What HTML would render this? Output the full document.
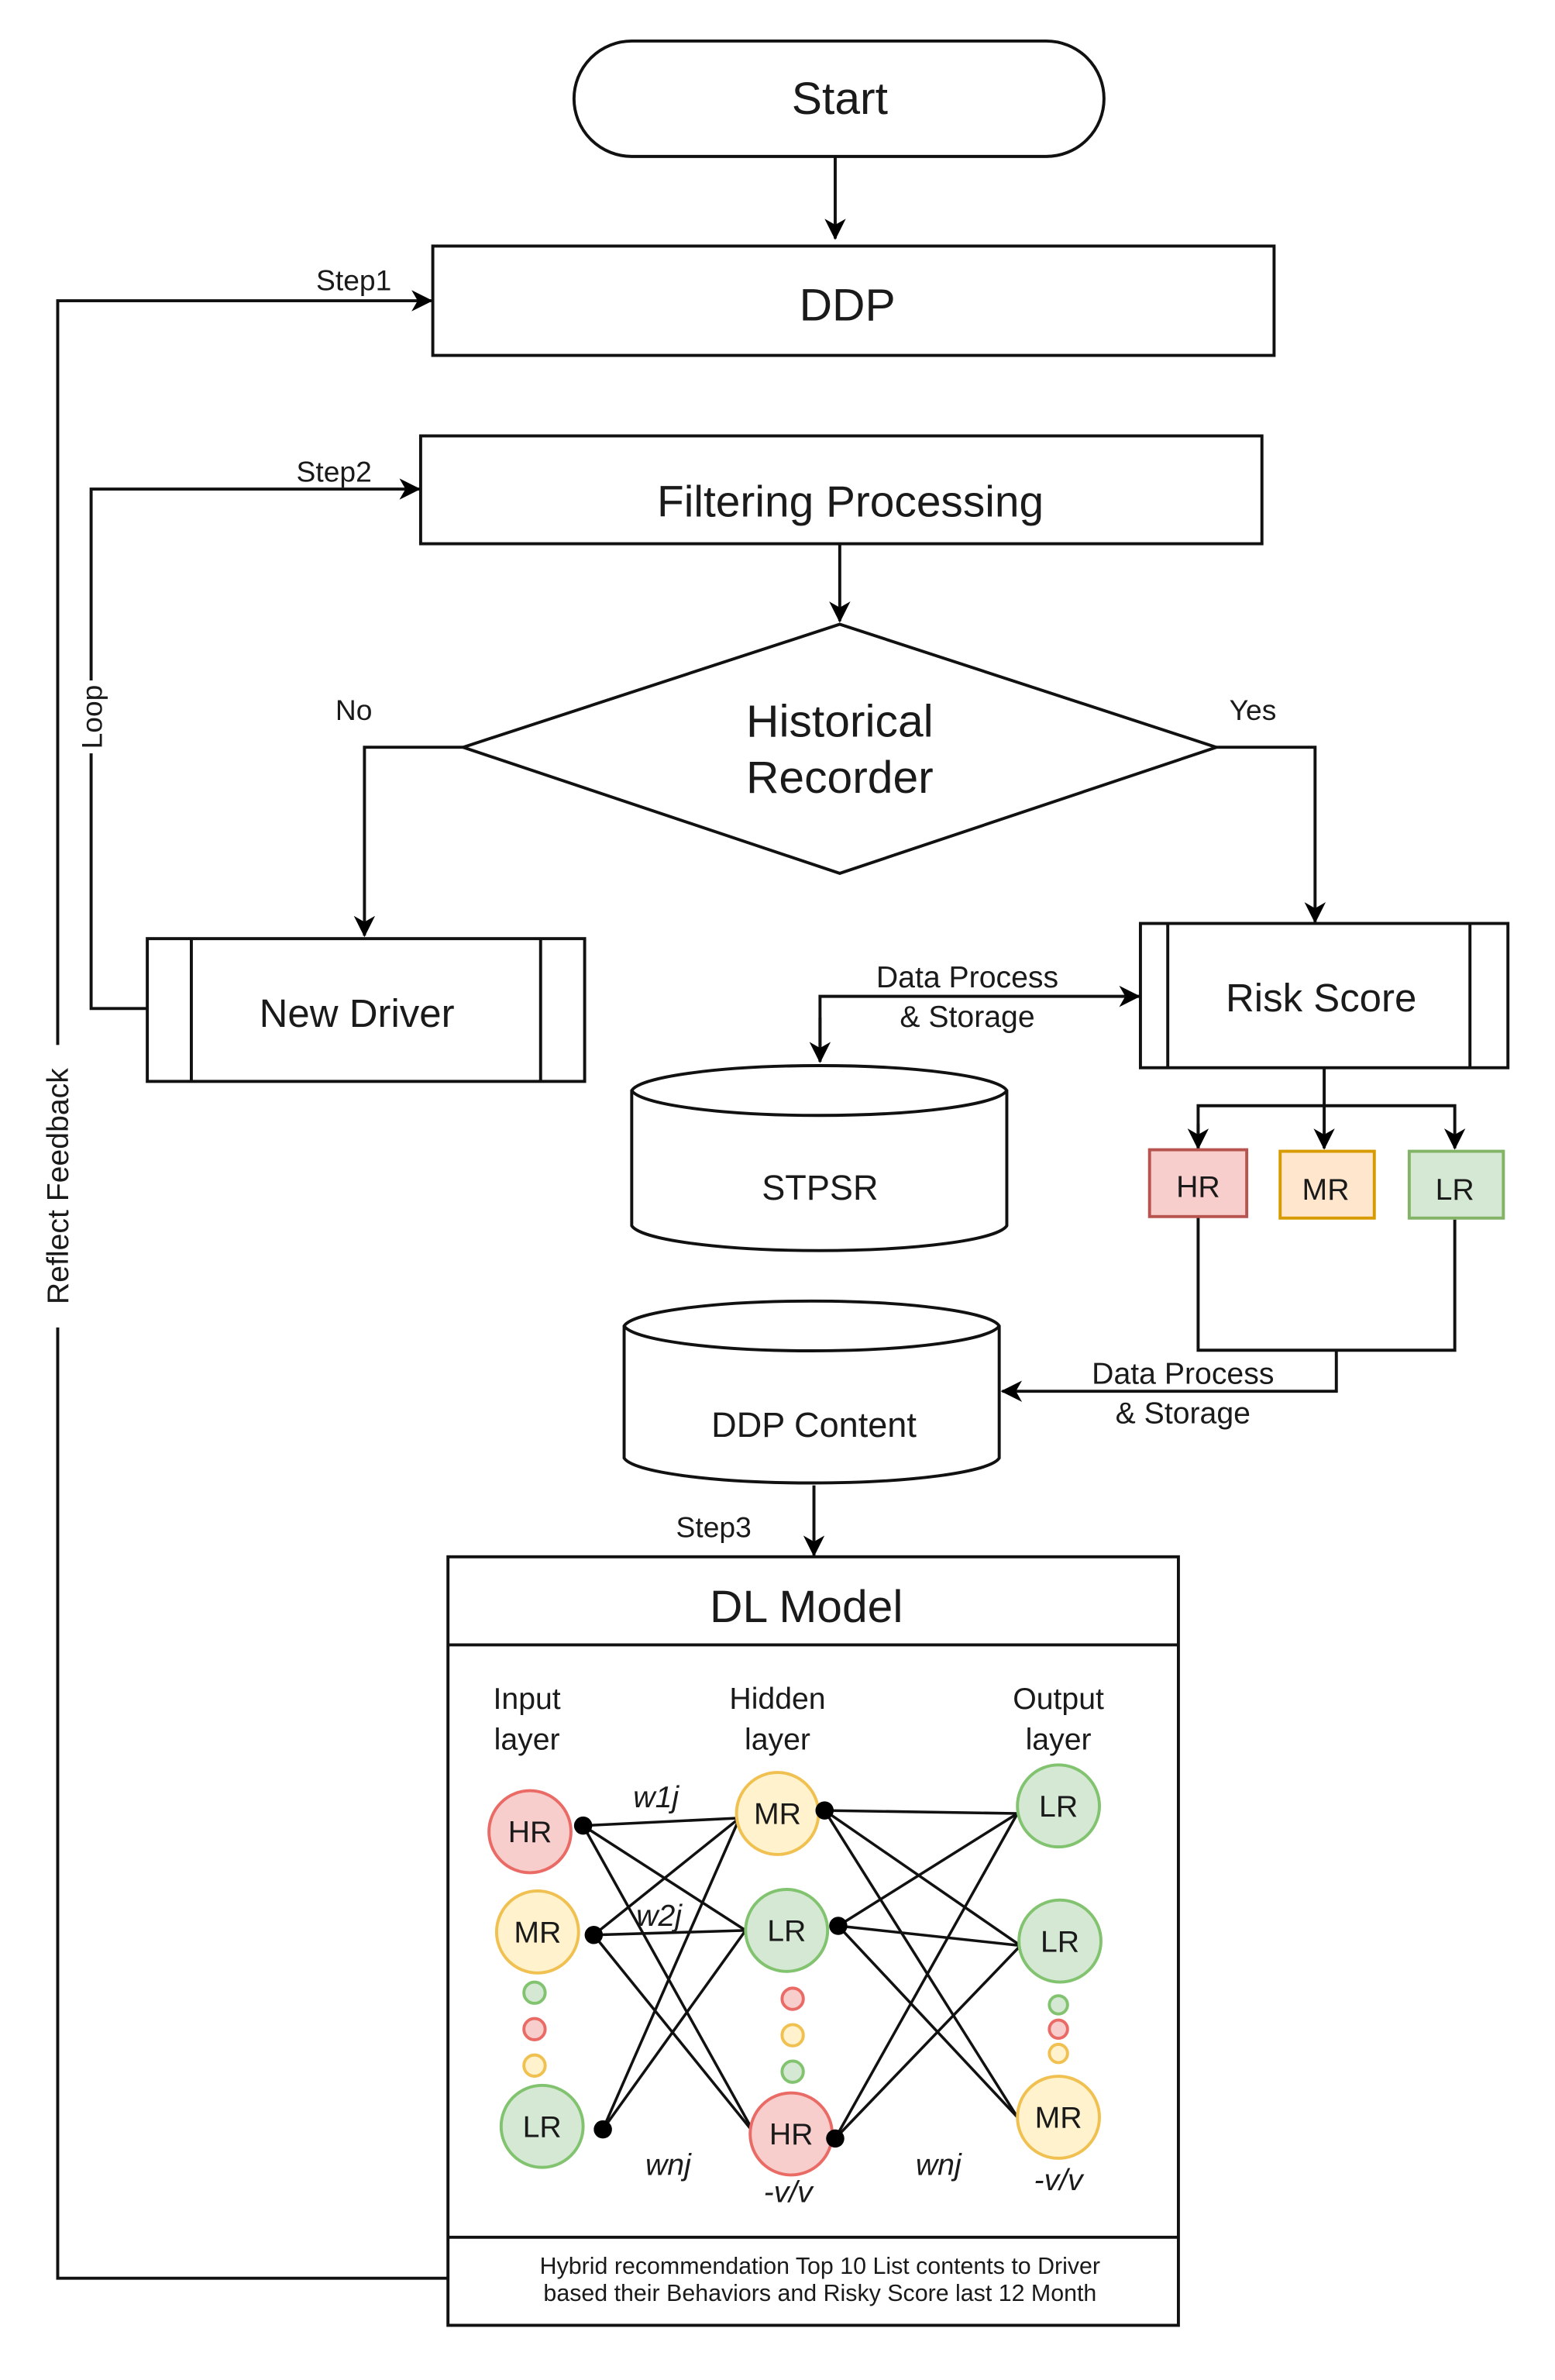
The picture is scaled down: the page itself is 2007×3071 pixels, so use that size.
<!DOCTYPE html>
<html><head><meta charset="utf-8"><style>html,body{margin:0;padding:0;background:#fff}svg{display:block}text{font-family:"Liberation Sans",sans-serif;fill:#1a1a1a}</style></head><body>
<svg width="2007" height="3071" viewBox="0 0 1024 1567" preserveAspectRatio="none" xmlns="http://www.w3.org/2000/svg">
<defs><marker id="a" markerWidth="14" markerHeight="14" refX="13" refY="7" orient="auto" markerUnits="userSpaceOnUse"><path d="M0,0 L14,7 L0,14 L4,7 z" fill="#000"/></marker></defs>
<g stroke="#111" stroke-width="2" fill="none">
<rect x="378" y="27" width="349" height="76" rx="38" fill="#fff"/>
<line x1="550" y1="103" x2="550" y2="157" marker-end="url(#a)"/>
<rect x="285" y="162" width="554" height="72"/>
<rect x="277" y="287" width="554" height="71"/>
<polyline points="295,1500 38,1500 38,198 284,198" marker-end="url(#a)"/>
<polyline points="97,664 60,664 60,322 276,322" marker-end="url(#a)"/>
<line x1="553" y1="358" x2="553" y2="409" marker-end="url(#a)"/>
<polygon points="553,411 801,492 553,575 305,492"/>
<polyline points="305,492 240,492 240,616" marker-end="url(#a)"/>
<polyline points="801,492 866,492 866,607" marker-end="url(#a)"/>
<rect x="97" y="618" width="288" height="94"/><line x1="126" y1="618" x2="126" y2="712"/><line x1="356" y1="618" x2="356" y2="712"/>
<rect x="751" y="608" width="242" height="95"/><line x1="769" y1="608" x2="769" y2="703"/><line x1="968" y1="608" x2="968" y2="703"/>
<polyline points="540,699 540,656 750,656" marker-end="url(#a)"/>
<line x1="540" y1="670" x2="540" y2="699" marker-end="url(#a)"/>
<path d="M416,718 A124,18 0 0 1 663,718 L663,807 A124,18 0 0 1 416,807 Z"/>
<path d="M416,718 A124,18 0 0 0 663,718"/>
<line x1="872" y1="703" x2="872" y2="756" marker-end="url(#a)"/>
<polyline points="789,756 789,728 958,728 958,756" marker-end="url(#a)"/>
<line x1="789" y1="740" x2="789" y2="756" marker-end="url(#a)"/>
<polyline points="789,801 789,889 958,889 958,803"/>
<polyline points="880,889 880,916 660,916" marker-end="url(#a)"/>
<path d="M411,873 A124,18 0 0 1 658,873 L658,960 A124,18 0 0 1 411,960 Z"/>
<path d="M411,873 A124,18 0 0 0 658,873"/>
<line x1="536" y1="978" x2="536" y2="1024" marker-end="url(#a)"/>
<rect x="295" y="1025" width="481" height="506"/>
<line x1="295" y1="1083" x2="776" y2="1083"/><line x1="295" y1="1473" x2="776" y2="1473"/>
</g>
<rect x="757" y="757" width="64" height="44" fill="#f8cecc" stroke="#b85450" stroke-width="2"/>
<rect x="843" y="758" width="62" height="44" fill="#ffe6cc" stroke="#d79b00" stroke-width="2"/>
<rect x="928" y="758" width="62" height="44" fill="#d5e8d4" stroke="#82b366" stroke-width="2"/>
<g stroke="#111" stroke-width="1.8">
<line x1="384" y1="1202" x2="487" y2="1197"/><line x1="384" y1="1202" x2="491" y2="1271"/><line x1="384" y1="1202" x2="497" y2="1405"/>
<line x1="391" y1="1274" x2="487" y2="1197"/><line x1="391" y1="1274" x2="491" y2="1271"/><line x1="391" y1="1274" x2="497" y2="1405"/>
<line x1="397" y1="1402" x2="487" y2="1197"/><line x1="397" y1="1402" x2="491" y2="1271"/>
<line x1="543" y1="1192" x2="670" y2="1194"/><line x1="543" y1="1192" x2="672" y2="1281"/><line x1="543" y1="1192" x2="670" y2="1394"/>
<line x1="552" y1="1268" x2="670" y2="1194"/><line x1="552" y1="1268" x2="672" y2="1281"/><line x1="552" y1="1268" x2="670" y2="1394"/>
<line x1="550" y1="1408" x2="670" y2="1194"/><line x1="550" y1="1408" x2="672" y2="1281"/>
</g>
<g stroke-width="2">
<circle cx="349" cy="1206" r="27" fill="#f8cecc" stroke="#ea6b66"/>
<circle cx="354" cy="1272" r="27" fill="#fff2cc" stroke="#f0c050"/>
<circle cx="357" cy="1400" r="27" fill="#d5e8d4" stroke="#82c370"/>
<circle cx="512" cy="1194" r="27" fill="#fff2cc" stroke="#f0c050"/>
<circle cx="518" cy="1271" r="27" fill="#d5e8d4" stroke="#82c370"/>
<circle cx="521" cy="1405" r="27" fill="#f8cecc" stroke="#ea6b66"/>
<circle cx="697" cy="1189" r="27" fill="#d5e8d4" stroke="#82c370"/>
<circle cx="698" cy="1278" r="27" fill="#d5e8d4" stroke="#82c370"/>
<circle cx="697" cy="1394" r="27" fill="#fff2cc" stroke="#f0c050"/>
<circle cx="352" cy="1312" r="7" fill="#d5e8d4" stroke="#82c370"/>
<circle cx="352" cy="1336" r="7" fill="#f8cecc" stroke="#ea6b66"/>
<circle cx="352" cy="1360" r="7" fill="#fff2cc" stroke="#f0c050"/>
<circle cx="522" cy="1316" r="7" fill="#f8cecc" stroke="#ea6b66"/>
<circle cx="522" cy="1340" r="7" fill="#fff2cc" stroke="#f0c050"/>
<circle cx="522" cy="1364" r="7" fill="#d5e8d4" stroke="#82c370"/>
<circle cx="697" cy="1320" r="6" fill="#d5e8d4" stroke="#82c370"/>
<circle cx="697" cy="1336" r="6" fill="#f8cecc" stroke="#ea6b66"/>
<circle cx="697" cy="1352" r="6" fill="#fff2cc" stroke="#f0c050"/>
</g>
<g fill="#000"><circle cx="384" cy="1202" r="6"/><circle cx="391" cy="1274" r="6"/><circle cx="397" cy="1402" r="6"/><circle cx="543" cy="1192" r="6"/><circle cx="552" cy="1268" r="6"/><circle cx="550" cy="1408" r="6"/></g>
<g text-anchor="middle">
<text x="553" y="75" font-size="30">Start</text>
<text x="558" y="211" font-size="30">DDP</text>
<text x="560" y="340" font-size="29">Filtering Processing</text>
<text x="553" y="485" font-size="30">Historical</text>
<text x="553" y="522" font-size="30">Recorder</text>
<text x="233" y="474" font-size="19">No</text>
<text x="825" y="474" font-size="19">Yes</text>
<text x="235" y="676" font-size="26">New Driver</text>
<text x="870" y="666" font-size="26">Risk Score</text>
<text x="637" y="650" font-size="20">Data Process</text>
<text x="637" y="676" font-size="20">&amp; Storage</text>
<text x="540" y="790" font-size="23">STPSR</text>
<text x="789" y="788" font-size="20">HR</text>
<text x="873" y="790" font-size="20">MR</text>
<text x="958" y="790" font-size="20">LR</text>
<text x="779" y="911" font-size="20">Data Process</text>
<text x="779" y="937" font-size="20">&amp; Storage</text>
<text x="536" y="946" font-size="23">DDP Content</text>
<text x="470" y="1012" font-size="19">Step3</text>
<text x="233" y="191" font-size="19">Step1</text>
<text x="220" y="317" font-size="19">Step2</text>
<text x="531" y="1068" font-size="30">DL Model</text>
<text x="347" y="1125" font-size="20">Input</text><text x="347" y="1152" font-size="20">layer</text>
<text x="512" y="1125" font-size="20">Hidden</text><text x="512" y="1152" font-size="20">layer</text>
<text x="697" y="1125" font-size="20">Output</text><text x="697" y="1152" font-size="20">layer</text>
<g font-size="20"><text x="349" y="1213">HR</text><text x="354" y="1279">MR</text><text x="357" y="1407">LR</text>
<text x="512" y="1201">MR</text><text x="518" y="1278">LR</text><text x="521" y="1412">HR</text>
<text x="697" y="1196">LR</text><text x="698" y="1285">LR</text><text x="697" y="1401">MR</text></g>
<g font-size="20" font-style="italic"><text x="432" y="1190">w1j</text><text x="434" y="1268">w2j</text><text x="440" y="1432">wnj</text><text x="519" y="1450">-v/v</text><text x="618" y="1432">wnj</text><text x="697" y="1442">-v/v</text></g>
<text x="540" y="1497" font-size="15.5">Hybrid recommendation Top 10 List contents to Driver</text>
<text x="540" y="1515" font-size="15.5">based their Behaviors and Risky Score last 12 Month</text>
</g>
<rect x="50" y="448" width="20" height="48" fill="#fff"/>
<text transform="translate(67,472) rotate(-90)" text-anchor="middle" font-size="19">Loop</text>
<rect x="28" y="688" width="20" height="186" fill="#fff"/>
<text transform="translate(45,781) rotate(-90)" text-anchor="middle" font-size="20">Reflect Feedback</text>
</svg>
</body></html>
